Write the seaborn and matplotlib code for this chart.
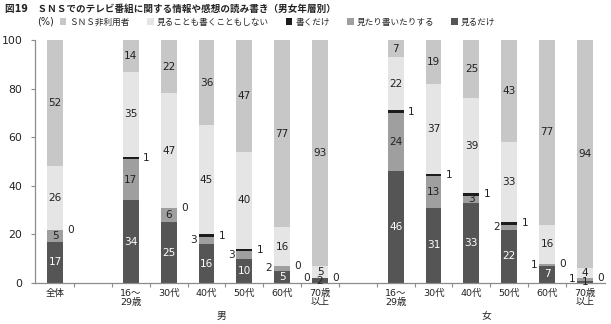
import numpy as np
import pandas as pd
import matplotlib
matplotlib.use("Agg")
import matplotlib.pyplot as plt
import matplotlib.transforms as mtransforms
from matplotlib.patches import Patch
import seaborn as sns

# ---- data -------------------------------------------------------------
groups = ["", "男", "男", "男", "男", "男", "男", "女", "女", "女", "女", "女", "女"]
ages = ["全体", "16～\n29歳", "30代", "40代", "50代", "60代", "70歳\n以上",
        "16～\n29歳", "30代", "40代", "50代", "60代", "70歳\n以上"]

view_only = [17, 34, 25, 16, 10, 5, 2, 46, 31, 33, 22, 7, 1]        # 見るだけ
view_and_write = [5, 17, 6, 3, 3, 2, 0, 24, 13, 3, 2, 1, 1]          # 見たり書いたりする
write_only = [0, 1, 0, 1, 1, 0, 0, 1, 1, 1, 1, 0, 0]                 # 書くだけ
neither = [26, 35, 47, 45, 40, 16, 5, 22, 37, 39, 33, 16, 4]        # 見ることも書くこともしない
non_users = [52, 14, 22, 36, 47, 77, 93, 7, 19, 25, 43, 77, 94]     # ＳＮＳ非利用者

series_names = ["見るだけ", "見たり書いたりする", "書くだけ",
                "見ることも書くこともしない", "ＳＮＳ非利用者"]
series_values = [view_only, view_and_write, write_only, neither, non_users]
series_colors = ["#555555", "#9f9f9f", "#1c1c1c", "#e5e5e5", "#c7c7c7"]

title = "図19　ＳＮＳでのテレビ番組に関する情報や感想の読み書き（男女年層別）"

# ---- bar slots: one blank slot whenever the group changes ----------------
positions = []
slot = -1
prev = None
for g in groups:
    if prev is not None and g != prev:
        slot += 1
    slot += 1
    positions.append(slot)
    prev = g
positions = np.array(positions)

df = pd.DataFrame({"pos": positions})
cums = np.cumsum(np.array(series_values), axis=0)
for name, c in zip(series_names, cums):
    df[name] = c

# ---- style --------------------------------------------------------------
sns.set_theme(style="white")
plt.rcParams["font.family"] = ["DejaVu Sans", "Noto Sans CJK JP"]
plt.rcParams["axes.unicode_minus"] = False

W, H = 611, 324
fig = plt.figure(figsize=(W / 100, H / 100), dpi=100)
ax = fig.add_axes([35 / W, 41 / H, 570 / W, 243 / H])

bar_w = 0.42
# stacked bars: draw cumulative totals from the top layer down
for name, color in reversed(list(zip(series_names, series_colors))):
    sns.barplot(data=df, x="pos", y=name, native_scale=True, color=color,
                saturation=1, width=bar_w, errorbar=None, linewidth=0,
                ax=ax)

ax.set_xlim(-0.53, 14.53)
ax.set_ylim(0, 100)
ax.set_xlabel("")
ax.set_ylabel("")

# ---- value labels -------------------------------------------------------
lab_fs = 7.6
half = bar_w / 2
bottoms = np.vstack([np.zeros(len(positions)), cums[:-1]])
# small 見たり書いたりする values go beside the bar, except for 女 40代
inside_small = {positions[9]}
for i, x in enumerate(positions):
    for k in range(5):
        v = series_values[k][i]
        b = bottoms[k][i]
        yc = b + v / 2
        if k == 0:
            col = "white" if v >= 5 else "#222222"
            ax.text(x, yc, str(v), ha="center", va="center", fontsize=lab_fs,
                    color=col)
        elif k == 1:
            if v >= 5 or x in inside_small:
                ax.text(x, yc, str(v), ha="center", va="center",
                        fontsize=lab_fs, color="#222222")
            else:
                ax.text(x - half - 0.05, yc, str(v), ha="right", va="center",
                        fontsize=lab_fs, color="#222222")
        elif k == 2:
            ax.text(x + half + 0.12, yc, str(v), ha="left", va="center",
                    fontsize=lab_fs, color="#222222")
        else:
            top = min(b + v, 100)
            ax.text(x, (b + top) / 2, str(v), ha="center", va="center",
                    fontsize=lab_fs, color="#222222")

# ---- axes ---------------------------------------------------------------
for s in ["top", "right"]:
    ax.spines[s].set_visible(False)
for s in ["left", "bottom"]:
    ax.spines[s].set_color("#8c8c8c")
    ax.spines[s].set_linewidth(0.9)

ax.set_yticks(np.arange(0, 101, 20))
ax.tick_params(axis="y", length=3, width=0.8, color="#8c8c8c", pad=6,
               labelsize=7.8, labelcolor="#222222", left=True)
ax.set_xticks(positions)
ax.set_xticklabels(ages, fontsize=6.8, linespacing=1.1, color="#222222")
ax.tick_params(axis="x", length=0, pad=4, bottom=True)
ax.set_xticks(np.arange(0.5, 14.5, 1), minor=True)
ax.tick_params(axis="x", which="minor", length=3, width=0.8,
               color="#8c8c8c", bottom=True)

# group labels under the age ticks
trans = mtransforms.blended_transform_factory(ax.transData, fig.transFigure)
for g in ["男", "女"]:
    xs = positions[np.array(groups) == g]
    ax.text(xs.mean() - 0.1, 1 - 316 / H, g, transform=trans, ha="center",
            va="center", fontsize=7, color="#222222")

# ---- title, unit, legend ------------------------------------------------
fig.text(5 / W, 1 - 9 / H, title, ha="left", va="center", fontsize=6.9,
         fontweight="bold", color="#222222")
fig.text(37 / W, 1 - 22 / H, "(%)", ha="left", va="center", fontsize=7,
         color="#222222")

handles = [Patch(facecolor=c, edgecolor="none")
           for c in reversed(series_colors)]
labels = list(reversed(series_names))
fig.legend(handles, labels, loc="center left",
           bbox_to_anchor=(60 / W, 1 - 22 / H), ncol=5, frameon=False,
           fontsize=6.2, handlelength=0.75, handleheight=0.75,
           handletextpad=0.35, columnspacing=2.0, borderpad=0,
           borderaxespad=0)

fig.savefig("out.png", dpi=100)
